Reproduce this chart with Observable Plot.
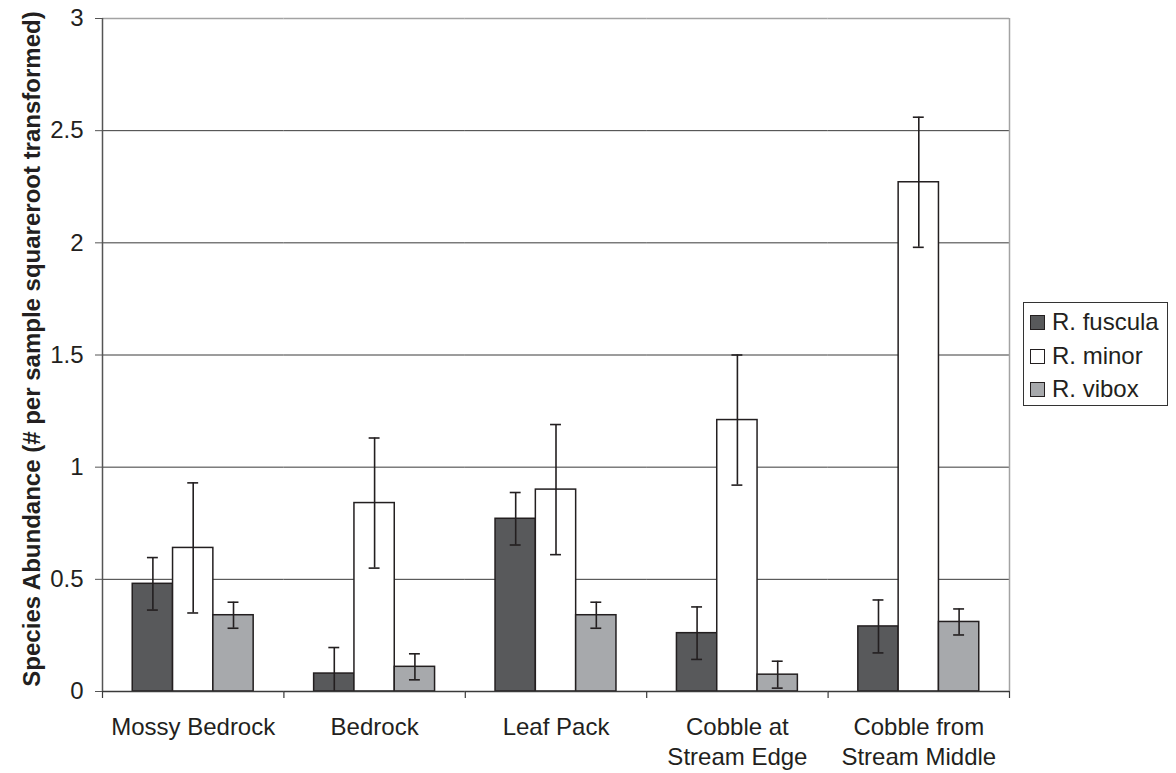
<!DOCTYPE html>
<html>
<head>
<meta charset="utf-8">
<script src="https://cdn.jsdelivr.net/npm/d3@7"></script>
<script src="https://cdn.jsdelivr.net/npm/@observablehq/plot@0.6"></script>
<style>
  html, body { margin: 0; padding: 0; background: #fff; }
  #wrap { position: relative; width: 1176px; height: 773px; font-family: "Liberation Sans", Arial, sans-serif; color: #231f20; }
  #legend { position: absolute; left: 1023px; top: 302px; width: 143px; height: 102px; border: 1px solid #333; padding: 0; box-sizing: content-box; }
  #legend .row { position: absolute; left: 0; height: 34px; line-height: 34px; font-size: 24px; white-space: nowrap; }
  #legend .sw { position: absolute; left: 6px; top: 10px; width: 13px; height: 13px; border: 1.5px solid #231f20; }
  #legend .lab { position: absolute; left: 28px; top: 0; }
</style>
</head>
<body>
<div id="wrap"><div id="legend"></div></div>
<script>
// Habitat types (x categories) and species (series)
const categories = ["Mossy Bedrock", "Bedrock", "Leaf Pack", "Cobble at\nStream Edge", "Cobble from\nStream Middle"];
const series = ["R. fuscula", "R. minor", "R. vibox"];
const seriesColors = ["#58595b", "#ffffff", "#a7a9ac"];

// Mean abundance (# per sample, square-root transformed)
const fuscula = [0.48, 0.08, 0.77, 0.26, 0.29];
const minor = [0.64, 0.84, 0.90, 1.21, 2.27];
const vibox = [0.34, 0.11, 0.34, 0.075, 0.31];

// Standard errors
const fusculaErr = [0.117, 0.116, 0.117, 0.117, 0.118];
const minorErr = [0.29, 0.29, 0.29, 0.29, 0.29];
const viboxErr = [0.058, 0.058, 0.058, 0.06, 0.058];

const yTicks = [0, 0.5, 1, 1.5, 2, 2.5, 3];
const yTitle = "Species Abundance (# per sample squareroot transformed)";

// Long table for the marks
const means = [fuscula, minor, vibox];
const errs = [fusculaErr, minorErr, viboxErr];
const rows = [];
categories.forEach((c, i) => {
  series.forEach((s, j) => {
    const v = means[j][i], e = errs[j][i];
    rows.push({category: c, series: s, value: v, lo: Math.max(0, v - e), hi: v + e, clipped: v - e <= 0});
  });
});

const W = 1176, H = 773, ML = 102, MR = 167, MT = 18, MB = 82;
const outerPad = 0.75;
// half a group gap plus half a bar: offset from first/last bar centre to facet edge
const facetStep = (W - ML - MR) / categories.length;
const barStep = facetStep / (series.length + 2 * outerPad);
const edgeOffset = barStep * (outerPad + 0.5);

const ink = "#231f20";
const first = categories[0], last = categories[categories.length - 1];

const chart = Plot.plot({
  width: W, height: H,
  marginLeft: ML, marginRight: MR, marginTop: MT, marginBottom: MB,
  style: {fontFamily: "'Liberation Sans', Arial, sans-serif", fontSize: "24px", color: ink, background: "#fff", overflow: "visible"},
  fx: {domain: categories, padding: 0, round: false, axis: null, label: null},
  x: {domain: series, paddingInner: 0, paddingOuter: outerPad, round: false, axis: null},
  y: {domain: [0, 3], axis: null},
  color: {domain: series, range: seriesColors},
  marks: [
    // horizontal gridlines (repeated across every facet)
    Plot.ruleY(yTicks.filter(d => d > 0 && d < 3), {stroke: "#3a3a3a", strokeWidth: 1}),
    // plot-area border: top and right
    Plot.ruleY([3], {stroke: "#a3a3a3", strokeWidth: 1.5}),
    Plot.ruleX([last], {fx: d => d, x: () => series[series.length - 1], dx: edgeOffset, y1: 0, y2: 3, stroke: "#a3a3a3", strokeWidth: 1.5}),
    // bars
    Plot.barY(rows, {fx: "category", x: "series", y: "value", fill: "series", stroke: ink, strokeWidth: 1.5}),
    // error bars
    Plot.ruleX(rows, {fx: "category", x: "series", y1: "lo", y2: "hi", stroke: ink, strokeWidth: 1.6}),
    Plot.tickY(rows, {fx: "category", x: "series", y: "hi", insetLeft: 14.7, insetRight: 14.7, stroke: ink, strokeWidth: 1.6}),
    Plot.tickY(rows.filter(d => !d.clipped), {fx: "category", x: "series", y: "lo", insetLeft: 14.7, insetRight: 14.7, stroke: ink, strokeWidth: 1.6}),
    // x axis baseline
    Plot.ruleY([0], {stroke: "#3a3a3a", strokeWidth: 1.5}),
    // category boundary ticks below the baseline
    Plot.ruleX(categories, {fx: d => d, x: () => series[0], dx: -edgeOffset, y1: 0, y2: 0, insetBottom: -7, stroke: "#3a3a3a", strokeWidth: 1.2}),
    Plot.ruleX([last], {fx: d => d, x: () => series[series.length - 1], dx: edgeOffset, y1: 0, y2: 0, insetBottom: -7, stroke: "#3a3a3a", strokeWidth: 1.2}),
    // y axis line
    Plot.ruleX([first], {fx: d => d, x: () => series[0], dx: -edgeOffset, y1: 0, y2: 3, stroke: "#555", strokeWidth: 1.5}),
    // axes
    Plot.axisY({ticks: yTicks, tickFormat: d => `${d}`, tickSize: 7, tickPadding: 12, label: null, stroke: "#555"}),
    Plot.axisFx({anchor: "bottom", tickSize: 0, tickPadding: 22, lineHeight: 1.25, label: null}),
    // y axis title, centred on the plot height
    Plot.text([yTitle], {fx: () => first, frameAnchor: "left", textAnchor: "middle", rotate: -90, dx: -70, dy: -6, fontWeight: "bold", fontSize: 24, fill: ink})
  ]
});

document.getElementById("wrap").prepend(chart);

// legend
const legend = document.getElementById("legend");
series.forEach((s, j) => {
  const row = document.createElement("div");
  row.className = "row";
  row.style.top = (2 + j * 33.5) + "px";
  const sw = document.createElement("div");
  sw.className = "sw";
  sw.style.background = seriesColors[j];
  const lab = document.createElement("span");
  lab.className = "lab";
  lab.textContent = s;
  row.append(sw, lab);
  legend.append(row);
});
</script>
</body>
</html>
